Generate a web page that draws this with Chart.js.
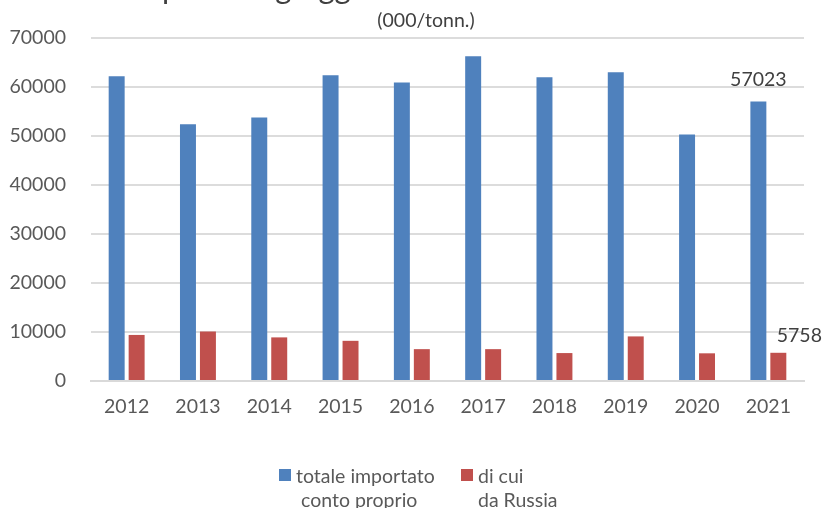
<!DOCTYPE html>
<html>
<head>
<meta charset="utf-8">
<script src="https://cdn.jsdelivr.net/npm/chart.js@4.4.1/dist/chart.umd.min.js"></script>
<style>
  html, body { margin: 0; padding: 0; background: #fff; }
  #wrap { position: relative; width: 823px; height: 508px; overflow: hidden; }
  #c { position: absolute; left: 0; top: 0; }
  .lg { position: absolute; font-family: Lato, sans-serif; font-size: 19.5px; color: #595959; line-height: 24px; white-space: nowrap; }
  .sq { position: absolute; width: 12px; height: 12px; }
</style>
</head>
<body>
<div id="wrap">
  <canvas id="c" width="823" height="508"></canvas>
  <div class="sq" style="left:279px;top:469px;background:#4f81bd"></div>
  <div class="lg" style="left:296px;top:464px">totale importato<br><span style="padding-left:5px">conto proprio</span></div>
  <div class="sq" style="left:461px;top:469px;background:#c0504d"></div>
  <div class="lg" style="left:478px;top:464px">di cui<br>da Russia</div>
</div>
<script>
const years = ['2012','2013','2014','2015','2016','2017','2018','2019','2020','2021'];
const totaleImportato = [62200, 52400, 53800, 62400, 60900, 66300, 62000, 63000, 50300, 57023];
const daRussia = [9400, 10100, 8900, 8200, 6500, 6500, 5700, 9100, 5650, 5758];
const seriesNames = ['totale importato conto proprio', 'di cui da Russia'];
const titleText = 'petrolio greggio';
const subtitleText = '(000/tonn.)';

const FONT = 'Lato, sans-serif';
const FS = 19.5;

const textPlugin = {
  id: 'texts',
  afterDraw(chart) {
    const ctx = chart.ctx;
    ctx.save();
    // title (cut off at the top edge)
    ctx.font = '31px ' + FONT;
    ctx.fillStyle = '#404040';
    ctx.textAlign = 'left';
    ctx.textBaseline = 'alphabetic';
    ctx.fillText(titleText, 162, -1);
    // subtitle
    ctx.font = FS + 'px ' + FONT;
    ctx.fillStyle = '#404040';
    ctx.textAlign = 'center';
    ctx.textBaseline = 'middle';
    ctx.fillText(subtitleText, 426, 21);
    // data labels on last bars
    const n = years.length - 1;
    const b0 = chart.getDatasetMeta(0).data[n];
    const b1 = chart.getDatasetMeta(1).data[n];
    ctx.fillText(String(totaleImportato[n]), b0.x, b0.y - 22);
    ctx.fillText(String(daRussia[n]), b1.x + 21, b1.y - 17);
    ctx.restore();
  }
};

function draw() {
  new Chart(document.getElementById('c'), {
    type: 'bar',
    data: {
      labels: years,
      datasets: [
        { label: seriesNames[0], data: totaleImportato, backgroundColor: '#4f81bd',
          categoryPercentage: 0.56, barPercentage: 0.8 },
        { label: seriesNames[1], data: daRussia, backgroundColor: '#c0504d',
          categoryPercentage: 0.56, barPercentage: 0.8 }
      ]
    },
    options: {
      responsive: false,
      animation: false,
      layout: { padding: { left: 0, right: 19, top: 38, bottom: 87 } },
      plugins: {
        legend: { display: false },
        tooltip: { enabled: false },
        title: { display: false }
      },
      scales: {
        x: {
          grid: { display: false, drawTicks: false },
          border: { display: true, color: '#d9d9d9', width: 2 },
          ticks: { color: '#595959', font: { family: FONT, size: FS }, padding: 14 },
          afterFit(s) { s.height = 40; }
        },
        y: {
          min: 0, max: 70000,
          grid: { color: '#dcdcdc', lineWidth: 2, drawTicks: false },
          border: { display: false },
          ticks: { stepSize: 10000, color: '#595959', font: { family: FONT, size: FS }, padding: 25,
                   callback: v => String(v) },
          afterFit(s) { s.width = 91; }
        }
      }
    },
    plugins: [textPlugin]
  });
}

if (document.fonts && document.fonts.load) {
  document.fonts.load('19.5px Lato').then(draw, draw);
} else {
  draw();
}
</script>
</body>
</html>
